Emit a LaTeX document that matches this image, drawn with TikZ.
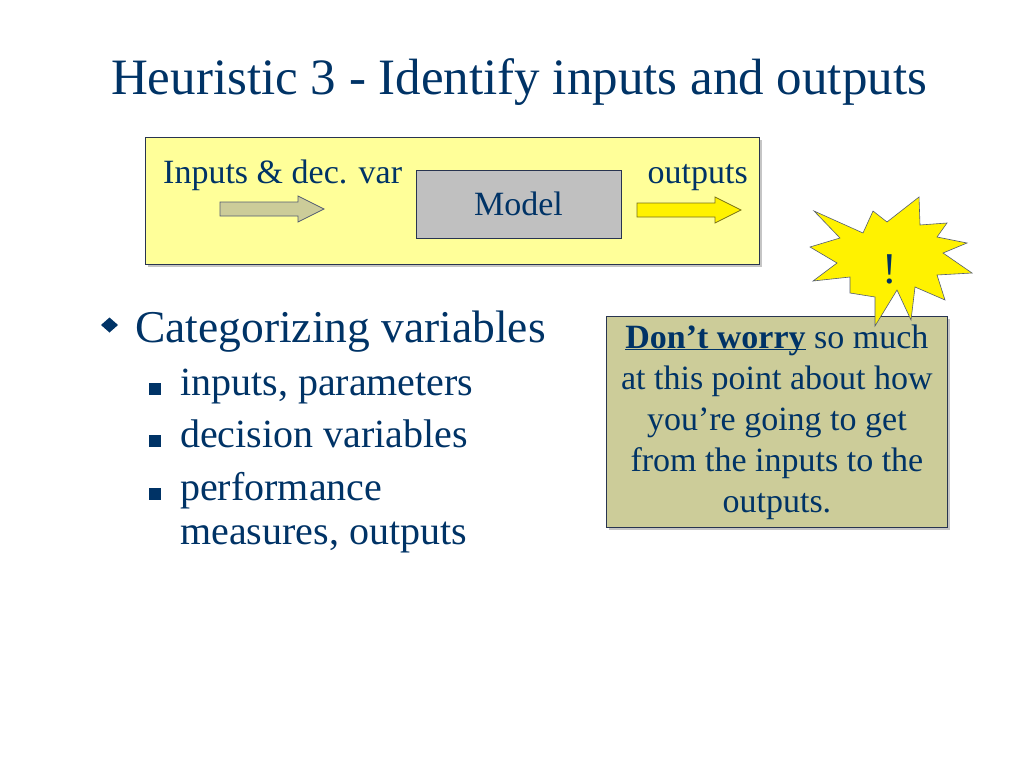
\documentclass[tikz,border=0pt]{standalone}
\usepackage{fontspec}
\setmainfont{Liberation Serif}
\usetikzlibrary{shapes.geometric,shadows}

\definecolor{slideblue}{RGB}{0,51,102}
\definecolor{paleyellow}{RGB}{255,255,153}
\definecolor{khaki}{RGB}{204,204,153}
\definecolor{modelgray}{RGB}{192,192,192}
\definecolor{boxline}{RGB}{40,52,80}

\tikzset{
  pics/flowarrow/.style={code={
    \path[pic actions] (0,-7) -- (78,-7) -- (78,-13) -- (104,0) -- (78,13) -- (78,7) -- (0,7) -- cycle;
  }}
}

\begin{document}
\begin{tikzpicture}[x=1pt,y=-1pt,
  panel/.style={draw=boxline, line width=0.8pt, inner sep=0pt, anchor=north west,
    drop shadow={shadow xshift=3pt, shadow yshift=-3pt, opacity=0.45}},
  label/.style={text=slideblue, inner sep=0pt},
  sqbullet/.style={rectangle, fill=slideblue, inner sep=0pt, minimum size=12pt}
]
  \fill[white] (0,0) rectangle (1024,768);
  \useasboundingbox (0,0) rectangle (1024,768);

  % title
  \node[label, anchor=base, font=\fontsize{51}{61}\selectfont] (title) at (519,94)
    {Heuristic 3 - Identify inputs and outputs};

  % model panel
  \node[panel, fill=paleyellow, minimum width=614pt, minimum height=127pt] (frame) at (145,137) {};
  \node[label, anchor=base west, font=\fontsize{34}{41}\selectfont] (inlabel) at (163,183) {Inputs \& dec. var};
  \node[label, anchor=base east, font=\fontsize{34}{41}\selectfont] (outlabel) at (748,183) {outputs};
  \node[draw=boxline, line width=0.8pt, fill=modelgray, text=slideblue, minimum width=205pt,
    minimum height=68pt, font=\fontsize{34}{41}\selectfont] (model) at (518.5,204) {Model};
  \pic[fill=khaki, draw=boxline!80, line width=0.7pt] (inarrow) at (220,209) {flowarrow};
  \pic[fill=yellow, draw=olive!80!black, line width=0.7pt] (outarrow) at (637,210) {flowarrow};

  % note
  \node[panel, fill=khaki, text=slideblue, minimum width=341pt, minimum height=211pt,
    align=center, font=\fontsize{34}{41}\selectfont] (note) at (606,316)
    {\underline{\smash{\textbf{Don’t worry}}} so much\\
     at this point about how\\ you’re going to get\\ from the inputs to the\\ outputs.};

  % starburst
  \draw[fill=yellow, draw=boxline!80, line width=0.6pt]
    (814,211) -- (863,233) -- (873,211) -- (887,222) -- (919,197) -- (920,225)
    -- (947,223) -- (937,237) -- (967,243) -- (943,253) -- (972,273) -- (937,275)
    -- (945,300) -- (915,287) -- (911,320) -- (897,290) -- (875,326) -- (875,297)
    -- (850,293) -- (850,277) -- (813,281) -- (837,263) -- (810,247) -- (840,238) -- cycle;
  \node[label, anchor=base, font=\fontsize{44}{50}\selectfont] (bang) at (890,283) {!};

  % bullets
  \fill[slideblue] (101,325) -- (109.5,317.5) -- (118,325) -- (109.5,332.5) -- cycle;
  \node[label, anchor=base west, font=\fontsize{45.5}{54}\selectfont] (cat) at (135,342) {Categorizing variables};
  \node[sqbullet] (sqa) at (155,388.5) {};
  \node[label, anchor=base west, font=\fontsize{40}{48}\selectfont] (inputs) at (180,395) {inputs, parameters};
  \node[sqbullet] (sqb) at (155,440.5) {};
  \node[label, anchor=base west, font=\fontsize{40}{48}\selectfont] (decision) at (180,447) {decision variables};
  \node[sqbullet] (sqc) at (155,493.5) {};
  \node[label, anchor=base west, font=\fontsize{40}{48}\selectfont] (perf) at (180,500) {performance};
  \node[label, anchor=base west, font=\fontsize{40}{48}\selectfont] (measures) at (180,544) {measures, outputs};
\end{tikzpicture}
\end{document}
